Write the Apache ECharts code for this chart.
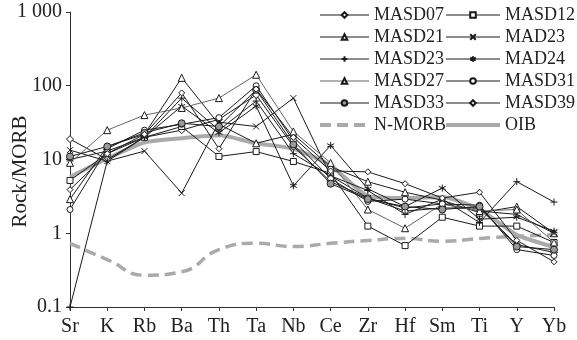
<!DOCTYPE html>
<html>
<head>
<meta charset="utf-8">
<script src="https://cdn.jsdelivr.net/npm/echarts@6/dist/echarts.min.js"></script>
<style>
  html, body { margin: 0; padding: 0; background: #fff; }
  #main { width: 577px; height: 340px; }
</style>
</head>
<body>
<div id="main"></div>
<script>
const elements = ["Sr", "K", "Rb", "Ba", "Th", "Ta", "Nb", "Ce", "Zr", "Hf", "Sm", "Ti", "Y", "Yb"];

const MASD07 = [18.9, 10, 20, 25, 35, 75, 15, 5.0, 3.0, 2.0, 2.2, 2.2, 0.7, 0.55];
const MASD12 = [5.2, 12, 20, 28, 11, 12.8, 9.4, 6.5, 1.25, 0.68, 1.65, 1.25, 1.25, 0.75];
const MASD21 = [2.9, 15, 22, 128, 30, 16.6, 22, 8.0, 5.0, 3.6, 2.8, 1.9, 2.3, 1.0];
const MAD23 = [13.4, 9.5, 13, 3.5, 32, 28, 68, 6.0, 3.0, 2.2, 2.5, 2.0, 1.8, 1.0];
const MASD23 = [0.1, 9.5, 20, 68, 25, 62, 12, 6.0, 3.8, 1.8, 2.9, 1.4, 5.0, 2.65];
const MAD24 = [10, 13, 20, 53, 23, 53, 4.4, 15.5, 4.0, 2.3, 4.1, 1.55, 1.65, 1.07];
const MASD27 = [9, 25, 40, 50, 68, 141, 24, 9.0, 2.1, 1.17, 2.5, 2.0, 2.1, 0.75];
const MASD31 = [2.1, 14, 25, 30, 37, 100, 18, 5.5, 2.7, 2.9, 2.5, 2.4, 0.6, 0.5];
const MASD33 = [11, 15, 23, 31, 28, 88, 16, 4.7, 2.9, 2.3, 2.1, 2.3, 0.66, 0.6];
const MASD39 = [3.9, 12, 22, 80, 14, 90, 20, 7.0, 6.8, 4.7, 3.0, 3.6, 0.8, 0.41];
const NMORB = [0.73, 0.44, 0.27, 0.30, 0.6, 0.73, 0.66, 0.73, 0.8, 0.85, 0.78, 0.85, 0.91, 0.95];
const OIB = [5.8, 10.3, 17, 19.4, 21.3, 16.6, 14, 8.3, 3.2, 3.0, 3.1, 2.1, 0.95, 0.65];

const yTicks = ["0.1", "1", "10", "100", "1 000"];

const FONT = "Liberation Serif";
const PATH_X = "path://M0,0L10,10M10,0L0,10";
const PATH_PLUS = "path://M5,0L5,10M0,5L10,5";
const PATH_STAR = "path://M5,0L5,10M0.7,2.5L9.3,7.5M0.7,7.5L9.3,2.5";

function sample(name, data, symbol, opts) {
  opts = opts || {};
  const color = opts.color || "#1a1a1a";
  return {
    name: name,
    type: "line",
    data: data,
    symbol: symbol,
    symbolSize: opts.size || 6,
    lineStyle: { color: color, width: 1 },
    itemStyle: { color: opts.fill || "#fff", borderColor: "#1a1a1a", borderWidth: 1 },
    z: 3,
  };
}

const legendText = { fontFamily: FONT, fontSize: 18, color: "#222", lineHeight: 18 };
// reference lines (no markers) get a thick grey stroke in the legend
function refItem(name) {
  return { name: name, itemStyle: { opacity: 0 }, lineStyle: { width: 4 } };
}

const chart = echarts.init(document.getElementById("main"));

chart.setOption({
  animation: false,
  backgroundColor: "#fff",
  grid: { left: 70, right: 23, top: 12, bottom: 33, outerBoundsMode: "none", containLabel: false },
  legend: [
    {
      orient: "vertical",
      left: 318,
      top: 6,
      padding: 0,
      itemWidth: 49,
      itemHeight: 7,
      itemGap: 4,
      lineStyle: { width: 1 },
      textStyle: legendText,
      data: ["MASD07", "MASD21", "MASD23", "MASD27", "MASD33", refItem("N-MORB")],
    },
    {
      orient: "vertical",
      left: 444,
      top: 6,
      padding: 0,
      itemWidth: 54,
      itemHeight: 7,
      itemGap: 4,
      lineStyle: { width: 1 },
      textStyle: legendText,
      data: ["MASD12", "MAD23", "MAD24", "MASD31", "MASD39", refItem("OIB")],
    },
  ],
  xAxis: {
    type: "category",
    data: elements,
    boundaryGap: false,
    axisLine: { lineStyle: { color: "#333", width: 1 } },
    axisTick: { show: true, length: 4, lineStyle: { color: "#333" } },
    axisLabel: { fontFamily: FONT, fontSize: 20, color: "#222", margin: 10 },
  },
  yAxis: {
    type: "log",
    logBase: 10,
    min: 0.1,
    max: 1000,
    name: "Rock/MORB",
    nameLocation: "middle",
    nameGap: 39,
    nameMoveOverlap: false,
    nameTextStyle: { fontFamily: FONT, fontSize: 21, color: "#222", padding: [0, 24, 0, 0] },
    splitLine: { show: false },
    axisLine: { show: true, lineStyle: { color: "#333", width: 1 } },
    axisTick: { show: true, length: 4, lineStyle: { color: "#333" } },
    axisLabel: {
      fontFamily: FONT,
      fontSize: 20,
      color: "#222",
      margin: 8,
      formatter: function (v) {
        const i = Math.round(Math.log10(v)) + 1;
        return yTicks[i] !== undefined ? yTicks[i] : "";
      },
    },
  },
  series: [
    sample("MASD07", MASD07, "diamond", { size: 7 }),
    sample("MASD12", MASD12, "rect", { size: 6 }),
    sample("MASD21", MASD21, "triangle", { size: 7 }),
    sample("MAD23", MAD23, PATH_X, { size: 6 }),
    sample("MASD23", MASD23, PATH_PLUS, { size: 7 }),
    sample("MAD24", MAD24, PATH_STAR, { size: 7 }),
    sample("MASD27", MASD27, "triangle", { size: 7, color: "#666" }),
    sample("MASD31", MASD31, "circle", { size: 6 }),
    sample("MASD33", MASD33, "circle", { size: 7, fill: "#999" }),
    sample("MASD39", MASD39, "diamond", { size: 6 }),
    {
      name: "N-MORB",
      type: "line",
      data: NMORB,
      smooth: true,
      symbol: "none",
      lineStyle: { color: "#aaa", width: 3.5, type: [11, 6] },
      itemStyle: { color: "#aaa" },
      z: 2,
    },
    {
      name: "OIB",
      type: "line",
      data: OIB,
      smooth: 0.2,
      symbol: "none",
      lineStyle: { color: "#aaa", width: 4 },
      itemStyle: { color: "#aaa" },
      z: 2,
    },
  ],
});
</script>
</body>
</html>
